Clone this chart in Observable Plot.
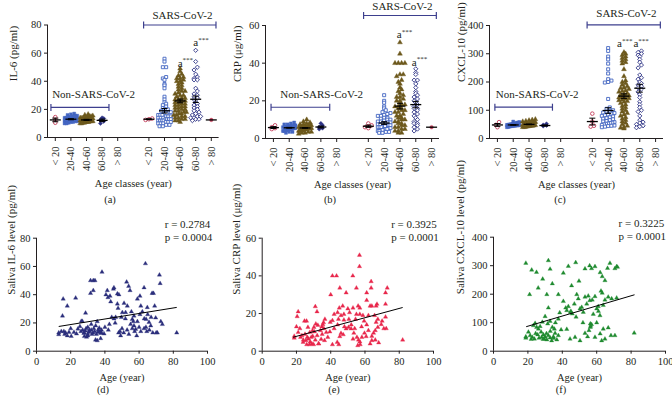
<!DOCTYPE html>
<html><head><meta charset="utf-8">
<script src="https://cdn.jsdelivr.net/npm/d3@7"></script>
<script src="https://cdn.jsdelivr.net/npm/@observablehq/plot@0.6"></script>
<style>
body{margin:0;background:#fff;}
#wrap{position:relative;width:672px;height:404px;overflow:hidden;font-family:"Liberation Serif",serif;color:#231f20;}
#wrap svg{max-width:none !important;}
.lab{position:absolute;font-size:10.5px;transform:translate(-50%,-50%);white-space:nowrap;}
</style></head><body><div id="wrap"></div>
<script>
// ---------- DATA ----------
const ageClasses = ["< 20", "20-40", "40-60", "60-80", "> 80"];
const panelLetters = ["(a)", "(b)", "(c)", "(d)", "(e)", "(f)"];

const il6Non = [
  [14.5, 12.5, 10.5],
  [17, 16.5, 16, 15.5, 15.5, 15, 15, 14.5, 14.5, 14, 14, 14, 13.5, 13.5, 13.5, 13, 13, 13, 13, 12.5, 12.5, 12.5, 12, 12, 12, 11.5, 11.5, 11, 11, 10.5, 10, 10],
  [16.5, 16, 15.5, 15, 15, 14.5, 14.5, 14, 14, 14, 13.5, 13.5, 13.5, 13, 13, 13, 13, 12.5, 12.5, 12.5, 12.5, 12, 12, 12, 12, 11.5, 11.5, 11.5, 11, 11, 11, 10.5, 10.5, 10, 10],
  [14, 13.5, 12.5, 11.5, 10],
  []
];
const il6Sars = [
  [13.5, 13, 12.5],
  [56, 54, 50, 50, 43, 42, 41, 38, 37, 35, 29, 27, 25, 24, 23, 22, 21, 20, 20, 19, 18, 18, 17, 17, 16, 16, 16, 15, 15, 15, 14, 14, 14, 13, 13, 13, 13, 12, 12, 12, 12, 11, 11, 11, 10, 10, 10, 9, 9, 8, 8],
  [49, 47, 45, 44, 43, 42, 42, 41, 40, 40, 39, 38, 37, 36, 35, 34, 33, 33, 32, 31, 30, 30, 29, 28, 28, 27, 27, 26, 26, 25, 25, 24, 24, 23, 23, 22, 22, 21, 21, 20, 20, 19, 19, 18, 18, 17, 17, 16, 16, 15, 15, 14, 14, 13, 13, 12, 12, 11],
  [62, 54, 50, 48, 45, 43, 42, 41, 41, 35, 33, 31, 30, 29, 28, 27, 25, 24, 23, 22, 21, 20, 19, 18, 17, 16, 15, 15, 14, 14, 13, 13, 12],
  [12.5]
];
const il6MeanNon = [12.5, 13, 12.5, 12.2, null], il6SemNon = [1.3, 0.4, 0.4, 0.9, 0];
const il6MeanSars = [13, 19, 26, 27.2, 12.5], il6SemSars = [0.3, 1.6, 1.3, 2.3, 0];
const il6StarX = [8, 9], il6StarY = [53, 67.4];

const crpNon = [
  [7, 6, 5.5, 5],
  [8.5, 8, 7.5, 7.5, 7, 7, 6.5, 6.5, 6.5, 6, 6, 6, 6, 5.5, 5.5, 5.5, 5.5, 5, 5, 5, 5, 4.5, 4.5, 4.5, 4, 4, 4, 3.5, 3.5, 3],
  [10, 9, 8.5, 8, 7.5, 7.5, 7, 7, 7, 6.5, 6.5, 6.5, 6, 6, 6, 6, 5.5, 5.5, 5.5, 5.5, 5, 5, 5, 5, 4.5, 4.5, 4.5, 4, 4, 4, 3.5, 3.5, 3, 3, 2.5],
  [8, 7, 6, 5.5, 5],
  []
];
const crpSars = [
  [8, 7, 6.5, 6, 5.5],
  [23, 20, 19, 17, 16, 15, 14, 13.5, 13, 12.5, 12, 12, 11, 11, 10.5, 10, 10, 9.5, 9, 9, 8.5, 8.5, 8, 8, 7.5, 7.5, 7, 7, 7, 6.5, 6.5, 6, 6, 6, 5.5, 5.5, 5, 5, 5, 4.5, 4.5, 4, 4, 3.5, 3.5, 3, 3],
  [51, 45, 40, 40, 40, 40, 34, 34, 33, 31, 30, 29, 27, 26, 25, 24, 23, 22, 22, 21, 20, 20, 19, 18, 18, 17, 17, 16, 16, 15, 15, 14, 14, 13, 12, 12, 11, 11, 10, 10, 9, 9, 8, 8, 7, 7, 6, 6, 5, 5, 4, 4, 3, 3],
  [37, 35, 34, 31, 31, 29, 27, 25, 24, 23, 22, 21, 20, 19, 18, 17, 16, 16, 15, 14, 13, 12, 11, 10, 9, 8, 8, 7, 6, 5, 4],
  [6]
];
const crpMeanNon = [5.8, 5.7, 5.6, 6.1, null], crpSemNon = [0.5, 0.2, 0.2, 0.5, 0];
const crpMeanSars = [6.5, 8.2, 17.2, 18, 6], crpSemSars = [0.6, 0.7, 1.5, 1.7, 0];
const crpStarX = [7.95, 8.9], crpStarY = [55, 40.5];

const cxclNon = [
  [58, 48, 40],
  [60, 58, 57, 56, 55, 54, 53, 52, 52, 51, 50, 50, 49, 49, 48, 48, 47, 47, 46, 46, 45, 45, 44, 44, 43, 42, 41, 40],
  [68, 66, 64, 62, 60, 58, 57, 56, 55, 54, 53, 52, 52, 51, 50, 50, 49, 49, 48, 48, 47, 46, 45, 45, 44, 43, 42, 41, 40, 40],
  [52, 48, 46, 44],
  []
];
const cxclSars = [
  [88, 60, 45, 42],
  [320, 310, 290, 280, 265, 245, 230, 210, 205, 200, 198, 140, 110, 105, 100, 98, 95, 92, 90, 88, 85, 82, 80, 78, 75, 72, 70, 68, 65, 62, 60, 58, 56, 55, 53, 52, 50, 48, 46, 45, 44, 42, 40],
  [305, 300, 295, 290, 285, 280, 275, 270, 265, 245, 220, 205, 200, 195, 190, 185, 180, 178, 175, 170, 168, 165, 160, 158, 155, 152, 150, 148, 145, 142, 140, 138, 135, 132, 130, 125, 120, 115, 110, 105, 100, 95, 90, 85, 80, 75, 70, 65, 60, 55, 50, 45, 40, 38, 35],
  [310, 305, 300, 295, 290, 280, 270, 260, 250, 225, 215, 210, 200, 195, 190, 185, 180, 175, 165, 155, 145, 130, 120, 110, 100, 95, 80, 65, 58, 55, 50, 45, 42, 38],
  []
];
const cxclMeanNon = [48, 48, 50, 46, null], cxclSemNon = [5, 1, 1, 2, 0];
const cxclMeanSars = [60, 99, 150, 178, null], cxclSemSars = [12, 10, 8, 14, 0];
const cxclStarX = [7.72, 8.75], cxclStarY = [337, 337];

const salivaIL6 = [[13,13],[13,11.8],[15.6,37],[15.2,25],[18,32],[20,16],[20.3,10.6],[22.9,37.7],[21.9,13.4],[23.4,12.3],[24.2,15.8],[25.4,17.5],[26.2,21.2],[26.8,21.2],[28.7,27],[27.7,12.7],[29.3,10],[30,11],[30.9,15],[31.6,50],[31.6,41],[33.2,50],[33.2,43],[34.2,50],[35.5,21],[34.6,18],[36,13.4],[36.7,16.5],[37.5,9],[38.3,56],[37.5,12.7],[39.5,12.3],[40.6,40],[41.4,43],[41.8,38],[43,39],[42.6,19],[43.4,35],[45,44],[45.3,45],[45.3,23],[46.3,24],[47.3,40.6],[47.3,33.5],[47.7,30.4],[48.2,40],[48.8,14],[49.2,11],[49.6,24],[50.2,27.4],[51.2,34],[52.1,27.4],[52.7,49],[53.1,32],[53.9,46],[54.7,43],[55.5,28],[56,22.6],[56.6,21],[57,18],[57.4,14],[58.6,11],[58,15.6],[59,37],[60.5,39],[60.5,26],[61,32],[61.9,28],[62.9,45],[62.9,16],[63.7,62],[64.1,22.6],[64.5,14],[64.8,31],[65.8,20.5],[66.8,18],[67.6,41],[68.4,41],[69.1,32],[69.7,23.6],[70.7,13],[71.9,54],[72.3,48],[72.7,21],[73.6,19],[82,13],
[16,14],[17,13],[19,13.5],[14.5,14],[16.5,12],[26,14],[27,15],[28,13],[28.5,14.5],[29,16],[30,12],[30.5,13.5],[31,14],[32,15],[32.5,12],[33,13],[33.5,16],[34,14],[34.5,8],[35,12],[36,15],[37,14],[38,13],[35.5,7.5],[28,10.5],[18,11],[30,17],[32,19],[38,15],[40,17],[42,15],[44,24],[46,20],[48,13],[50,16],[51,13],[52,23],[53,15],[54,12],[55,19],[56,16],[57,25],[59,21],[60,17],[61,14],[63,23],[64,17],[65,26],[66,15],[67,24],[68,13],[70,13]];
const salivaCRP = [[56.8,51],[56.8,45],[41,40],[43.4,40],[52.9,40],[45.3,33.6],[63.6,37],[63.6,33.6],[73,33.6],[72,31],[55,33.6],[61,31],[49,31],[40,30],[61,27],[72,25],[67,25],[66.5,24],[63,24],[64,24],[56,24],[57,23],[47,24],[53,23],[50,22.5],[45,23],[44,20.5],[42,19.6],[46,19],[47.7,19.6],[51,20.5],[55,19.6],[57,19.6],[58.8,19],[62,19],[65.6,19],[72,18.2],[67.5,17],[70,16],[66.5,15.4],[59.5,16],[54.5,17],[50.6,17],[47.7,16.6],[44.5,17],[41,16.3],[39.7,15.4],[36.6,17],[35.8,15.2],
[21,21],[20.4,18.4],[18.7,8],[18.7,7],[21,10],[22.4,7.4],[23.2,8.3],[24.7,16],[25.9,16],[26.7,12.7],[27.8,10],[28.6,7.4],[29,3.9],[27.6,3.5],[30.2,12.7],[31,23.7],[32,21],[30.5,10.3],[32.1,8.3],[32.9,3.9],[34,11],[34.8,13],[35.4,14.2],[34.4,6.4],[36.4,5.7],[37.4,10],[38.3,7.4],[39.5,10.3],[32.5,13.8],[31.3,14.5],[29.4,11],[25.5,5.7],[23.9,4.8],[26.3,7.4],
[20,13],[22,12],[24,6],[26,3.5],[28,5],[29.5,8],[31,6],[33,4],[35,9],[36,12],[30,3.5],[27,6.5],[25,9],
[41,3.5],[43.8,4.8],[44.7,3.5],[45.3,7.8],[47.3,8.8],[49,11.9],[50.4,12.7],[51.9,11.9],[53.5,9.6],[55.3,7.4],[56.2,6],[57.2,3.5],[55.8,3],[58.2,7.4],[59.7,9.6],[60.7,7.8],[63,3.9],[64,5.7],[65,9.6],[66,11],[67.5,12.7],[69.5,14.2],[71,12],[72.4,12],[82,6],
[42,12],[44,14],[48,13],[52,14],[54,12],[58,13],[61,14],[62,11],[64,8],[66,6],[68,4.5],[57,5],[53,6.5],[46,9.5]];
const salivaCXCL = [[18.8,309],[22.2,285],[25,277],[26,222],[21,199],[28.6,253],[31,199],[31.9,318],[32.9,288],[34.2,237],[31.9,152],[30,122],[37.7,199],[40.6,274],[43.5,298],[47.8,311],[45.4,230],[49.7,246],[53.2,289],[55.9,300],[57,290],[59,297],[62,276],[63.2,262],[64.8,248],[66.3,291],[67.7,309],[70.6,290],[71.6,297],[72.1,295],
[40.6,175],[42,152],[42.6,143],[43.5,157],[44.7,137],[45.8,131],[47,166],[48.4,199],[49.3,184],[50.3,149],[51.3,154],[52.2,137],[53.2,190],[54.2,166],[55.1,194],[56,178],[57.4,180],[59,192],[60,149],[60.9,157],[61.9,125],[62.5,211],[63.2,204],[63.8,161],[64.8,180],[66.7,190],[68.7,184],[71.6,187],
[39.3,75],[42.6,77],[37.7,113],[35.4,78],[56.3,96],[56.3,84],[57,94],[56.5,88],[55.5,73],[59,49],[62,61],[63.8,78],[64.8,43],[66.7,82],[68.3,55],[70.6,55],[62.9,37],[47.4,49],[44.5,43],[50.3,37],[53.2,63],[54.7,51],
[18.8,51],[18.8,46],[21.3,55],[22.6,49],[23.8,43],[20.3,67],[25.1,84],[26.1,78],[27.1,87],[28,49],[29,58],[29.6,43],[30,51],[31,40],[31.9,55],[32.9,47],[33.8,37],[34.8,51],[35.8,63],[36.8,40],[37.7,55],[23.2,90],[24.2,98],[28.4,102],[31.5,96],[32.9,105],[34.2,84],[27.7,67],[25.7,58],[21.9,42],[81.8,64],
[26.5,46],[28.8,42],[30.8,62],[33,70],[35,45],[36,100],[38.5,135],[24.5,62],[45,140],[48,120],[58,130],[61,140],[52,100],[60,100]];

const regAgeIL6 = [13, 82], regIL6 = [17.5, 31];
const regAgeCRP = [18, 82], regCRP = [7.4, 23.2];
const regAgeCXCL = [19, 82], regCXCL = [86, 198];
const rTexts = ["r = 0.2784", "r = 0.3925", "r = 0.3225"];
const pTexts = ["p = 0.0004", "p = 0.0001", "p = 0.0001"];

const ink = "#231f20";
const FONT = "'Liberation Serif', 'Times New Roman', serif";
const classColor = ["#c4405c", "#4466c2", "#6c581c", "#2d3285", "#c4405c"];
const classSymbol = ["circle", "square", "triangle", "diamond2", "circle"];
const classR = [1.8, 1.7, 1.8, 1.9, 1.8];
const nonOpen = [true, false, false, false, false];
const sarsOpen = [true, true, false, true, false];
const bracketColor = "#3d3f8e";

const wrap = document.getElementById("wrap");
function place(el, left, top, w, h) {
  el.style.position = "absolute"; el.style.left = left + "px"; el.style.top = top + "px";
  el.style.width = w + "px"; el.style.height = h + "px"; el.style.maxWidth = "none";
  wrap.appendChild(el);
}

function spread(vals, pxY, pxX, half = 6.3, step = 3.3, bin = 3.0) {
  const idx = vals.map((v, i) => ({v, i})).sort((a, b) => a.v - b.v);
  const bins = d3.group(idx, d => Math.round(d.v * pxY / bin));
  const off = new Array(vals.length).fill(0);
  for (const [, arr] of bins) {
    const n = arr.length;
    const s = n > 1 ? Math.min(step, 2 * half / (n - 1)) : 0;
    arr.forEach((d, k) => off[d.i] = ((k - (n - 1) / 2) * s) / pxX);
  }
  return off;
}

function topPanel(c) {
  const W = 224, H = 200;
  const pxX = (W - c.ml - c.mr) / 11, pxY = (H - c.mt - c.mb) / c.ymax;
  const marks = [
    Plot.ruleX([-0.5], {stroke: ink, strokeWidth: 1}),
    Plot.ruleY([0], {stroke: ink, strokeWidth: 1})
  ];
  const sets = [[c.non, [0, 1, 2, 3, 4], nonOpen], [c.sars, [6, 7, 8, 9, 10], sarsOpen]];
  for (const [arrs, pos, openFlags] of sets) {
    arrs.forEach((vals, k) => {
      if (!vals.length) return;
      const off = spread(vals, pxY, pxX);
      const rows = vals.map((v, i) => ({x: pos[k] + off[i], y: v}));
      const open = openFlags[k];
      marks.push(Plot.dot(rows, {x: "x", y: "y", symbol: classSymbol[k], r: classR[k],
        fill: open ? "white" : classColor[k], stroke: classColor[k], strokeWidth: open ? 0.9 : 0.4}));
    });
  }
  const ms = [];
  [[c.meanNon, c.semNon, [0, 1, 2, 3, 4]], [c.meanSars, c.semSars, [6, 7, 8, 9, 10]]].forEach(([m, s, pos]) => {
    m.forEach((v, k) => { if (v != null) ms.push({x: pos[k], m: v, s: s[k]}); });
  });
  const hw = 5.5 / pxX, cw = 3 / pxX;
  const ws = ms.filter(d => d.s > 0);
  marks.push(Plot.link(ms, {x1: d => d.x - hw, x2: d => d.x + hw, y1: "m", y2: "m", stroke: "black", strokeWidth: 1.3}));
  marks.push(Plot.link(ws, {x1: "x", x2: "x", y1: d => d.m - d.s, y2: d => d.m + d.s, stroke: "black", strokeWidth: 1}));
  marks.push(Plot.link(ws, {x1: d => d.x - cw, x2: d => d.x + cw, y1: d => d.m + d.s, y2: d => d.m + d.s, stroke: "black", strokeWidth: 1}));
  marks.push(Plot.link(ws, {x1: d => d.x - cw, x2: d => d.x + cw, y1: d => d.m - d.s, y2: d => d.m - d.s, stroke: "black", strokeWidth: 1}));
  const br = [c.brNon, c.brSars];
  const capH = 3.5 / pxY;
  marks.push(Plot.link(br, {x1: "x1", x2: "x2", y1: "y", y2: "y", stroke: bracketColor, strokeWidth: 1.2}));
  marks.push(Plot.link(br, {x1: "x1", x2: "x1", y1: d => d.y - capH, y2: d => d.y + capH, stroke: bracketColor, strokeWidth: 1.2}));
  marks.push(Plot.link(br, {x1: "x2", x2: "x2", y1: d => d.y - capH, y2: d => d.y + capH, stroke: bracketColor, strokeWidth: 1.2}));
  marks.push(Plot.text(["Non-SARS-CoV-2"], {x: c.brNon.tx, y: c.brNon.y, text: d => d, textAnchor: "start", lineAnchor: "middle", dy: -12.5, fontSize: 11, fill: ink}));
  marks.push(Plot.text(["SARS-CoV-2"], {x: 8.15, y: c.brSars.y, text: d => d, lineAnchor: "middle", dy: c.sarsDy, fontSize: 11, fill: ink}));
  const st = c.starX.map((x, i) => ({x, y: c.starY[i]}));
  marks.push(Plot.text(st, {x: "x", y: "y", text: () => "a", fontSize: 11, fill: ink}));
  marks.push(Plot.text(st, {x: "x", y: "y", text: () => "***", fontSize: 7, dx: 2.5, dy: -3, textAnchor: "start", fill: ink}));
  marks.push(Plot.text([c.ylabel], {frameAnchor: "left", text: d => d, rotate: -90, lineAnchor: "middle", dx: c.ylDx, fontSize: 11, fill: ink}));
  marks.push(Plot.text(["Age classes (year)"], {frameAnchor: "bottom", text: d => d, lineAnchor: "middle", dy: 46, fontSize: 10.5, fill: ink}));
  return Plot.plot({
    width: W, height: H, marginLeft: c.ml, marginRight: c.mr, marginTop: c.mt, marginBottom: c.mb,
    style: {fontFamily: FONT, fontSize: "10.5px", color: ink, background: "transparent", overflow: "visible"},
    x: {domain: [-0.5, 10.5], ticks: [0, 1, 2, 3, 4, 6, 7, 8, 9, 10], tickFormat: d => ageClasses[d < 5 ? d : d - 6],
        tickRotate: -90, tickSize: 4, tickPadding: 5, label: null},
    y: {domain: [0, c.ymax], ticks: c.yticks, tickSize: 3, tickPadding: 3, label: null},
    marks
  });
}

function bottomPanel(c) {
  const W = 224, H = 204;
  const marks = [
    Plot.ruleX([0], {stroke: ink}),
    Plot.ruleY([0], {stroke: ink}),
    Plot.dot(c.pts, {x: d => d[0], y: d => d[1], symbol: "triangle", r: 1.6, fill: c.color, stroke: c.color, strokeWidth: 0.3}),
    Plot.link([0], {x1: () => c.regAge[0], x2: () => c.regAge[1], y1: () => c.reg[0], y2: () => c.reg[1], stroke: "black", strokeWidth: 1}),
    Plot.text([c.r], {x: () => c.tx, frameAnchor: "top", text: d => d, textAnchor: "start", lineAnchor: "middle", dy: -13.5, fontSize: 11, fill: ink}),
    Plot.text([c.p], {x: () => c.tx, frameAnchor: "top", text: d => d, textAnchor: "start", lineAnchor: "middle", dy: -0.5, fontSize: 11, fill: ink}),
    Plot.text([c.ylabel], {frameAnchor: "left", text: d => d, rotate: -90, lineAnchor: "middle", dx: c.ylDx, fontSize: 11, fill: ink}),
    Plot.text(["Age (year)"], {frameAnchor: "bottom", text: d => d, lineAnchor: "middle", dy: 26, fontSize: 10.5, fill: ink})
  ];
  return Plot.plot({
    width: W, height: H, marginLeft: c.ml, marginRight: c.mr, marginTop: c.mt, marginBottom: c.mb,
    style: {fontFamily: FONT, fontSize: "10.5px", color: ink, background: "transparent", overflow: "visible"},
    x: {domain: [0, 100], ticks: [0, 20, 40, 60, 80, 100], tickSize: 3, tickPadding: 3, label: null},
    y: {domain: [0, c.ymax], ticks: d3.range(0, c.ymax + 1, c.ystep), tickSize: 3, tickPadding: 3, label: null},
    marks
  });
}

place(topPanel({ml: 47, mr: 5.4, mt: 24.5, mb: 63, ymax: 80, yticks: [0, 20, 40, 60, 80], ylabel: "IL-6 (pg/ml)", ylDx: -34, sarsDy: -10,
  non: il6Non, sars: il6Sars, meanNon: il6MeanNon, semNon: il6SemNon, meanSars: il6MeanSars, semSars: il6SemSars,
  brNon: {x1: -0.28, x2: 3.44, y: 21.4, tx: -0.2}, brSars: {x1: 5.66, x2: 10.3, y: 80}, starX: il6StarX, starY: il6StarY}), 0, 0, 224, 200);
place(topPanel({ml: 41, mr: 9, mt: 25, mb: 62, ymax: 60, yticks: [0, 20, 40, 60], ylabel: "CRP (\u03BCg/ml)", ylDx: -28, sarsDy: -9.5,
  non: crpNon, sars: crpSars, meanNon: crpMeanNon, semNon: crpSemNon, meanSars: crpMeanSars, semSars: crpSemSars,
  brNon: {x1: -0.15, x2: 3.56, y: 16.6, tx: 0.44}, brSars: {x1: 5.7, x2: 10.3, y: 65.3}, starX: crpStarX, starY: crpStarY}), 224, 0, 224, 200);
place(topPanel({ml: 41, mr: 9, mt: 25, mb: 62, ymax: 400, yticks: [0, 100, 200, 300, 400], ylabel: "CXCL-10 (pg/ml)", ylDx: -28, sarsDy: -11,
  non: cxclNon, sars: cxclSars, meanNon: cxclMeanNon, semNon: cxclSemNon, meanSars: cxclMeanSars, semSars: cxclSemSars,
  brNon: {x1: -0.16, x2: 3.48, y: 110.8, tx: -0.1}, brSars: {x1: 5.67, x2: 10.3, y: 402}, starX: cxclStarX, starY: cxclStarY}), 448, 0, 224, 200);

place(bottomPanel({ml: 36, mr: 17, mt: 37.7, mb: 53.3, ymax: 80, ystep: 20, pts: salivaIL6, color: "#2b2e7c", regAge: regAgeIL6, reg: regIL6,
  r: rTexts[0], p: pTexts[0], tx: 75, ylabel: "Saliva IL-6 level (pg/ml)", ylDx: -25}), 0, 200, 224, 204);
place(bottomPanel({ml: 37.7, mr: 15, mt: 37.7, mb: 53.3, ymax: 60, ystep: 20, pts: salivaCRP, color: "#e8274b", regAge: regAgeCRP, reg: regCRP,
  r: rTexts[1], p: pTexts[1], tx: 75.3, ylabel: "Saliva CRP level (\u03BCg/ml)", ylDx: -26}), 224, 200, 224, 204);
place(bottomPanel({ml: 45, mr: 7, mt: 36.7, mb: 53.3, ymax: 400, ystep: 100, pts: salivaCXCL, color: "#1f8a2f", regAge: regAgeCXCL, reg: regCXCL,
  r: rTexts[2], p: pTexts[2], tx: 72.7, ylabel: "Saliva CXCL-10 level (pg/ml)", ylDx: -33}), 448, 200, 224, 204);

const letterPos = [[110, 199], [330, 199], [560, 199], [103, 389], [334, 389], [561, 389]];
panelLetters.forEach((t, i) => {
  const s = document.createElement("div");
  s.className = "lab"; s.textContent = t;
  s.style.left = letterPos[i][0] + "px"; s.style.top = letterPos[i][1] + "px";
  wrap.appendChild(s);
});
</script></body></html>
